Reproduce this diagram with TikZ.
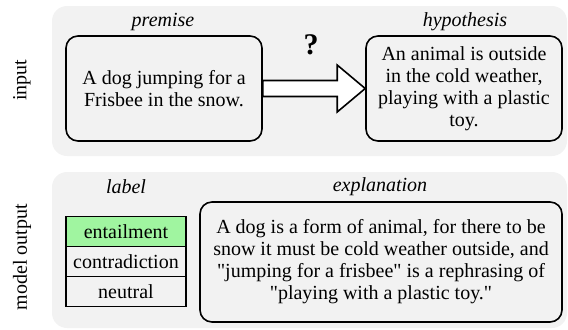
\documentclass[tikz,border=0pt]{standalone}
\usepackage{fontspec}
\setmainfont{Liberation Serif}
\usetikzlibrary{positioning}
\definecolor{panelgray}{HTML}{F2F2F2}
\definecolor{entailgreen}{HTML}{A0F5A0}
\newcommand{\sq}{\textquotedbl}
\begin{document}
\begin{tikzpicture}
  [x=0.5pt,y=-0.5pt,every node/.style={font=\fontsize{10}{11}\selectfont,inner sep=0pt},
   textbox/.style={draw,line width=0.8pt,rounded corners=6pt,align=center},
   head/.style={font=\fontsize{10}{11}\selectfont\itshape},
   cell/.style={draw,line width=0.8pt,outer sep=0pt,minimum width=60pt,minimum height=15pt}]
  \useasboundingbox (0,0) rectangle (568,329);
  % grey panels
  \fill[panelgray,rounded corners=7.5pt] (52,6) rectangle (567,156);
  \fill[panelgray,rounded corners=7.5pt] (52,172) rectangle (567,328);

  \node[rotate=90] (inp) at (22,80) {input};
  \node[rotate=90] (outp) at (22,257) {model output};

  % input row
  \node[head] (premlbl) at (163,22) {premise};
  \node[head] (hyplbl) at (465,22) {hypothesis};
  \node[textbox,minimum width=98pt,minimum height=52.5pt] (prem) at (164,88.5)
    {A dog jumping for a\\Frisbee in the snow.};
  \node[textbox,minimum width=98pt,minimum height=52.5pt] (hyp) at (464,88.5)
    {An animal is outside\\in the cold weather,\\playing with a plastic\\toy.};
  \node[font=\fontsize{15}{18}\selectfont\bfseries] (q) at (311,44.5) {?};

  \draw[line width=0.8pt,fill=white] ([yshift=4pt]prem.east) -- ([xshift=-14pt,yshift=4pt]hyp.west)
    -- ([xshift=-14pt,yshift=11.75pt]hyp.west) -- (hyp.west)
    -- ([xshift=-14pt,yshift=-11.75pt]hyp.west) -- ([xshift=-14pt,yshift=-4pt]hyp.west)
    -- ([yshift=-4pt]prem.east) -- cycle;

  % output row
  \node[head] (lbl) at (126,187) {label};
  \node[head] (explbl) at (380,187) {explanation};
  \node[cell,fill=entailgreen] (ent) at (126,231.5) {entailment};
  \node[cell,below=0pt of ent] (con) {contradiction};
  \node[cell,below=0pt of con] (neu) {neutral};
  \node[textbox,minimum width=181pt,minimum height=60pt] (expl) at (381,262)
    {A dog is a form of animal, for there to be\\snow it must be cold weather outside, and\\\sq{}jumping for a frisbee\sq{} is a rephrasing of\\\sq{}playing with a plastic toy.\sq{}};

\end{tikzpicture}
\end{document}
